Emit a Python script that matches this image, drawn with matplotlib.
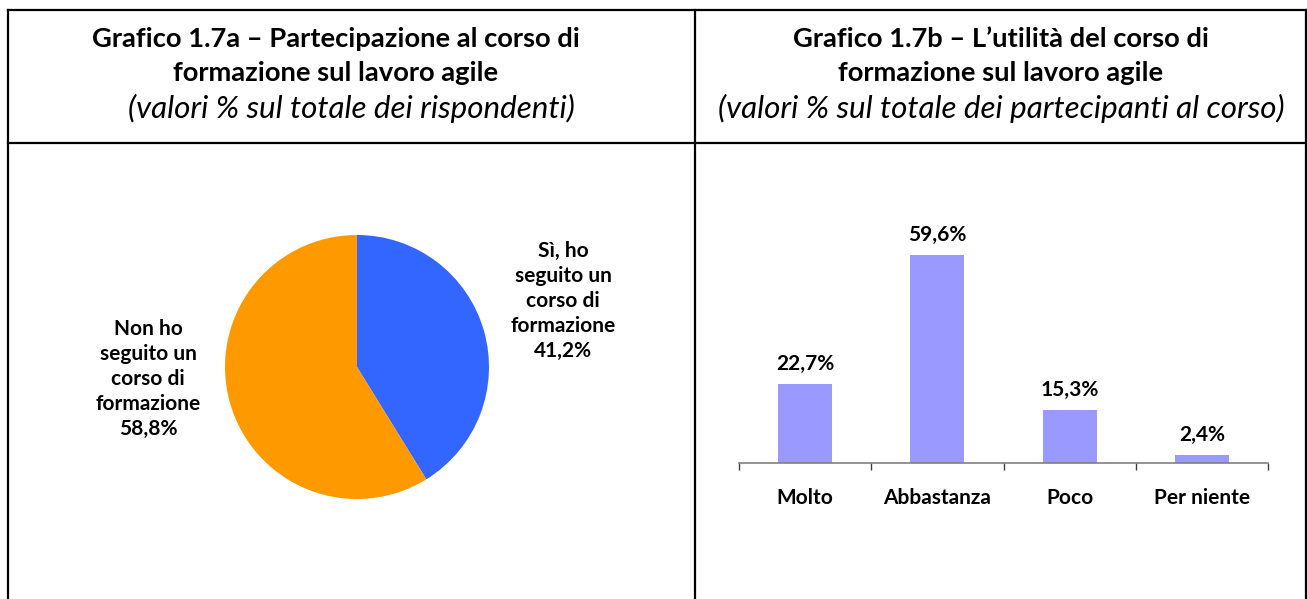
import numpy as np
import matplotlib.pyplot as plt
from matplotlib.lines import Line2D

# data
pie_labels = ["Sì, ho\nseguito un\ncorso di\nformazione\n41,2%",
              "Non ho\nseguito un\ncorso di\nformazione\n58,8%"]
pie_values = [41.2, 58.8]
pie_colors = ["#3366FF", "#FF9900"]

bar_categories = ["Molto", "Abbastanza", "Poco", "Per niente"]
bar_values = [22.7, 59.6, 15.3, 2.4]
bar_labels = ["22,7%", "59,6%", "15,3%", "2,4%"]

title_a = ["Grafico 1.7a – Partecipazione al corso di", "formazione sul lavoro agile"]
sub_a = "(valori % sul totale dei rispondenti)"
title_b = ["Grafico 1.7b – L’utilità del corso di", "formazione sul lavoro agile"]
sub_b = "(valori % sul totale dei partecipanti al corso)"

W, H = 1307, 599
plt.rcParams['font.family'] = ['Lato', 'DejaVu Sans']
fig = plt.figure(figsize=(W / 100, H / 100), dpi=100)


def fx(x):
    return x / W


def fy(y):
    return 1 - y / H


# table lines
lw = 1.6
for (x0, y0, x1, y1) in [(8, 10, 1306, 10), (8, 143, 1306, 143),
                         (8, 10, 8, 599), (695, 10, 695, 599),
                         (1306, 10, 1306, 599)]:
    fig.add_artist(Line2D([fx(x0), fx(x1)], [fy(y0), fy(y1)],
                          color="black", lw=lw, transform=fig.transFigure))

# headers
for tx, sx, lines, sub in [(336, 351, title_a, sub_a), (1001, 1001, title_b, sub_b)]:
    fig.text(fx(tx), fy(39), lines[0], ha="center", va="center",
             fontsize=19.7, fontweight="bold")
    fig.text(fx(tx), fy(73), lines[1], ha="center", va="center",
             fontsize=19.7, fontweight="bold")
    fig.text(fx(sx), fy(108), sub, ha="center", va="center",
             fontsize=22.6, style="italic")

# pie
cx, cy, r = 357, 367, 132
ax1 = fig.add_axes([fx(cx - r), fy(cy + r), 2 * r / W, 2 * r / H])
ax1.pie(pie_values, colors=pie_colors, startangle=90, counterclock=False,
        wedgeprops=dict(linewidth=0))
ax1.set_aspect("auto")
ax1.set_xlim(-1, 1)
ax1.set_ylim(-1, 1)
fig.text(fx(563), fy(301), pie_labels[0], ha="center", va="center",
         fontsize=15, fontweight="bold", linespacing=1.3)
fig.text(fx(148), fy(379), pie_labels[1], ha="center", va="center",
         fontsize=15, fontweight="bold", linespacing=1.3)

# bars
x0, x1, base = 739, 1268, 463
ymax = 70
px_per = 3.49
ax2 = fig.add_axes([fx(x0), fy(base), (x1 - x0) / W, ymax * px_per / H])
pos = np.arange(len(bar_categories))
ax2.bar(pos, bar_values, width=0.41, color="#9999FF")
ax2.set_xlim(-0.5, len(bar_categories) - 0.5)
ax2.set_ylim(0, ymax)
for p, v, lab in zip(pos, bar_values, bar_labels):
    ax2.annotate(lab, (p, v), xytext=(0, 7), textcoords="offset points",
                 ha="center", va="bottom", fontsize=15, fontweight="bold")
for s in ["top", "right", "left"]:
    ax2.spines[s].set_visible(False)
ax2.spines["bottom"].set_color("#808080")
ax2.spines["bottom"].set_linewidth(1.2)
ax2.set_yticks([])
ax2.set_xticks(np.arange(len(bar_categories) + 1) - 0.5, minor=True)
ax2.tick_params(axis="x", which="minor", length=5, color="#404040", width=1)
ax2.set_xticks(pos)
ax2.set_xticklabels(bar_categories, fontsize=15, fontweight="bold")
ax2.tick_params(axis="x", which="major", length=0, pad=18)

fig.savefig("out.png", dpi=100)
